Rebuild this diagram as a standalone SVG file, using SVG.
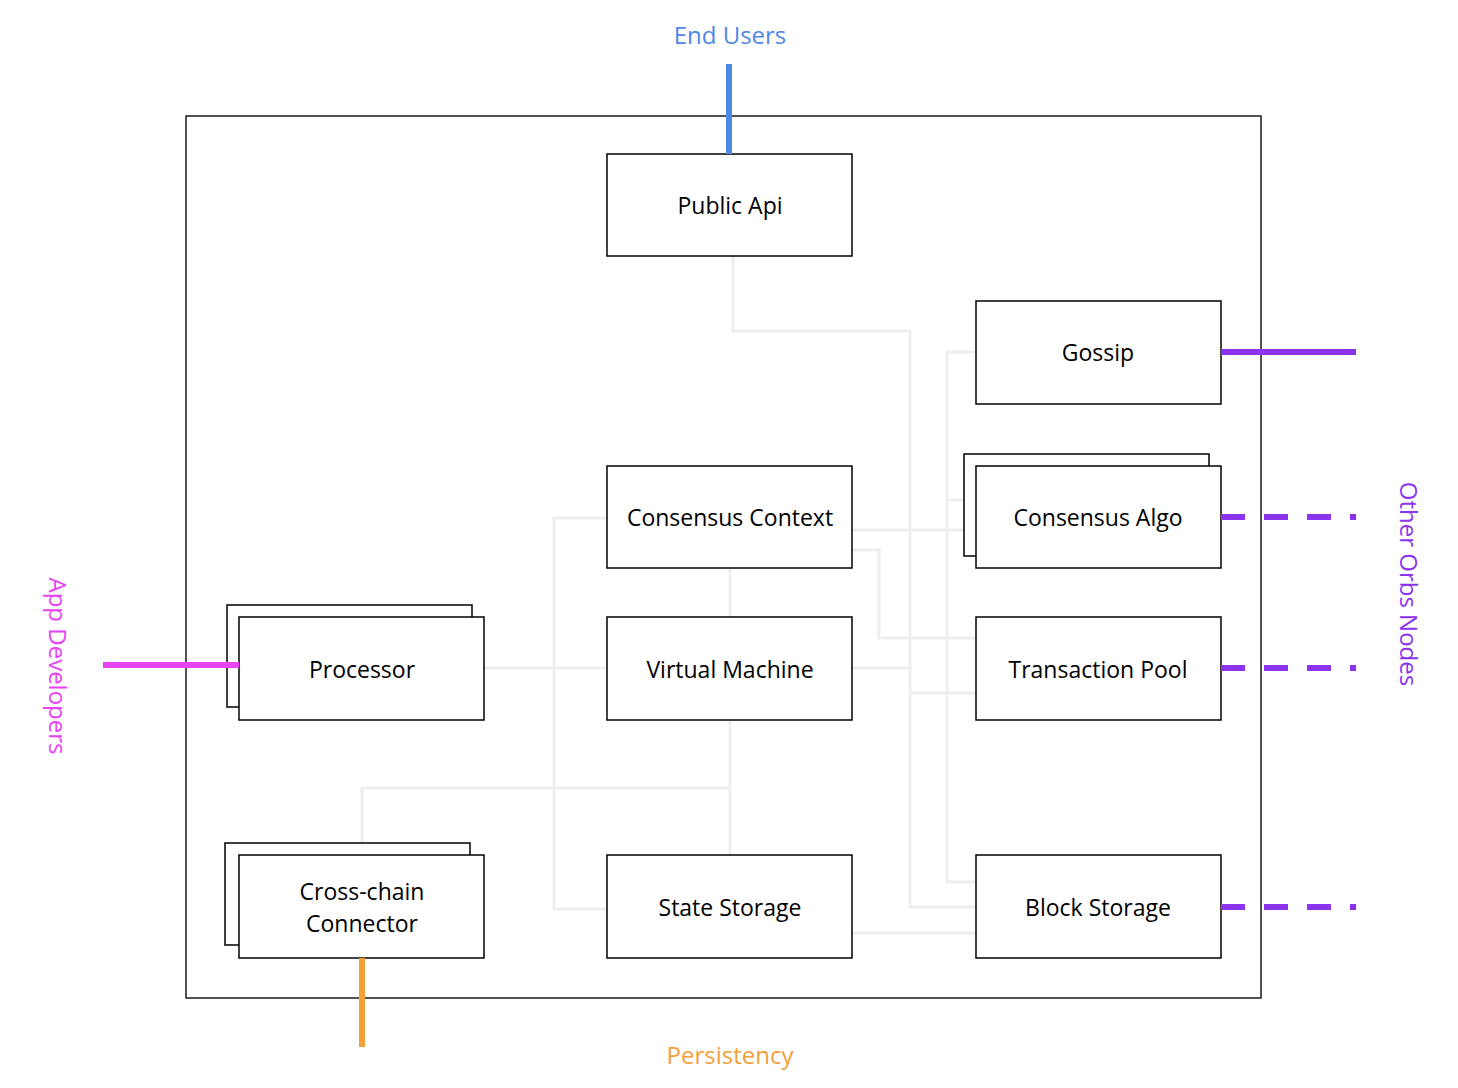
<svg xmlns="http://www.w3.org/2000/svg" width="1458" height="1088" viewBox="0 0 1458 1088">
<style>
.box{fill:#fff;stroke:#000;stroke-width:1.5}
.frame{fill:none;stroke:#1a1a1a;stroke-width:1.5}
.lbl{font-family:"Open Sans","Noto Sans",sans-serif;font-size:23px;fill:#000;text-anchor:middle}
.ext{font-family:"Open Sans","Noto Sans",sans-serif;font-size:24px;text-anchor:middle}
.gray{fill:none;stroke:#eeeeee;stroke-width:3}
.purple{stroke:#8c33ee;stroke-width:6;fill:none}
.dash{stroke-dasharray:24 19}
</style>
<rect id="frame" class="frame" x="186" y="116" width="1075" height="882"/>
<g id="connectors">
<polyline class="gray" points="733,257 733,331 910,331 910,907 976,907"/>
<polyline class="gray" points="976,352 947,352 947,882 976,882"/>
<line class="gray" x1="947" y1="500" x2="964" y2="500"/>
<line class="gray" x1="853" y1="530" x2="964" y2="530"/>
<polyline class="gray" points="853,550 879,550 879,638 976,638"/>
<line class="gray" x1="853" y1="668" x2="910" y2="668"/>
<line class="gray" x1="910" y1="693" x2="976" y2="693"/>
<polyline class="gray" points="607,518 554,518 554,909 607,909"/>
<line class="gray" x1="485" y1="668" x2="607" y2="668"/>
<line class="gray" x1="730" y1="569" x2="730" y2="617"/>
<line class="gray" x1="730" y1="721" x2="730" y2="855"/>
<polyline class="gray" points="730,788 362,788 362,843"/>
<line class="gray" x1="853" y1="933" x2="976" y2="933"/>
</g>
<g id="public-api"><rect class="box" x="607" y="154" width="245" height="102"/><text class="lbl" x="730" y="214">Public Api</text></g>
<g id="gossip"><rect class="box" x="976" y="301" width="245" height="103"/><text class="lbl" x="1098" y="361">Gossip</text></g>
<g id="consensus-context"><rect class="box" x="607" y="466" width="245" height="102"/><text class="lbl" x="730" y="526">Consensus Context</text></g>
<g id="consensus-algo"><rect class="box" x="964" y="454" width="245" height="102"/><rect class="box" x="976" y="466" width="245" height="102"/><text class="lbl" x="1098" y="526">Consensus Algo</text></g>
<g id="processor"><rect class="box" x="227" y="605" width="245" height="102"/><rect class="box" x="239" y="617" width="245" height="103"/><text class="lbl" x="362" y="678">Processor</text></g>
<g id="virtual-machine"><rect class="box" x="607" y="617" width="245" height="103"/><text class="lbl" x="730" y="678">Virtual Machine</text></g>
<g id="transaction-pool"><rect class="box" x="976" y="617" width="245" height="103"/><text class="lbl" x="1098" y="678">Transaction Pool</text></g>
<g id="cross-chain-connector"><rect class="box" x="225" y="843" width="245" height="102"/><rect class="box" x="239" y="855" width="245" height="103"/><text class="lbl" x="362" y="900">Cross-chain</text><text class="lbl" x="362" y="932">Connector</text></g>
<g id="state-storage"><rect class="box" x="607" y="855" width="245" height="103"/><text class="lbl" x="730" y="916">State Storage</text></g>
<g id="block-storage"><rect class="box" x="976" y="855" width="245" height="103"/><text class="lbl" x="1098" y="916">Block Storage</text></g>
<g id="external-links">
<line x1="729" y1="64" x2="729" y2="154" stroke="#5087e6" stroke-width="6"/>
<line x1="103" y1="665" x2="239" y2="665" stroke="#e843f2" stroke-width="6"/>
<line x1="362" y1="958" x2="362" y2="1047" stroke="#f2a03a" stroke-width="6"/>
<line class="purple" x1="1221" y1="352" x2="1356" y2="352"/>
<line class="purple dash" x1="1221" y1="517" x2="1356" y2="517"/>
<line class="purple dash" x1="1221" y1="668" x2="1356" y2="668"/>
<line class="purple dash" x1="1221" y1="907" x2="1356" y2="907"/>
</g>
<g id="end-users"><text class="ext" x="730" y="44" fill="#5087e6">End Users</text></g>
<g id="persistency"><text class="ext" x="730" y="1064" fill="#f2a03a">Persistency</text></g>
<g id="app-developers"><text class="ext" transform="translate(49,666) rotate(90)" fill="#e843f2">App Developers</text></g>
<g id="other-orbs-nodes"><text class="ext" transform="translate(1400,584) rotate(90)" fill="#8c33ee">Other Orbs Nodes</text></g>
</svg>
